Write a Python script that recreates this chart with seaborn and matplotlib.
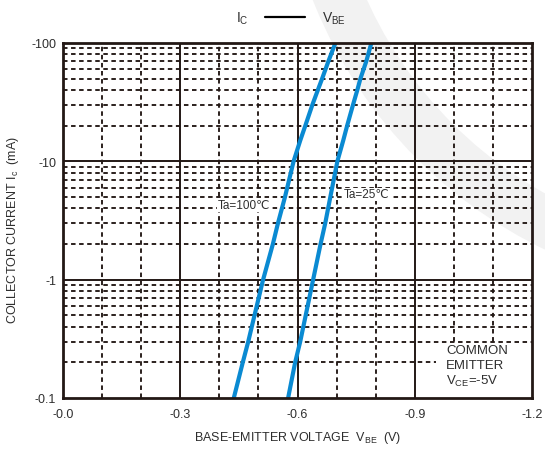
import matplotlib
matplotlib.use("Agg")
import numpy as np
import pandas as pd
import matplotlib.pyplot as plt
import seaborn as sns
from matplotlib.patches import Wedge, Rectangle
from matplotlib.ticker import FixedLocator, FixedFormatter, NullLocator

# ---- data: Ic vs VBE, common emitter, VCE = -5 V ----
ic_ma = [-0.1, -0.2, -0.3, -0.5, -1, -2, -3, -5, -10, -15, -20, -30, -40, -50, -70, -100]
vbe_100c = [-0.437, -0.460, -0.474, -0.490, -0.512, -0.537, -0.550, -0.568, -0.590,
            -0.607, -0.620, -0.638, -0.652, -0.663, -0.679, -0.697]
vbe_25c = [-0.576, -0.594, -0.607, -0.621, -0.640, -0.659, -0.671, -0.684, -0.702,
           -0.717, -0.727, -0.742, -0.753, -0.761, -0.776, -0.789]
series_names = ["Ta=100℃", "Ta=25℃"]

x_ticks = [0.0, -0.3, -0.6, -0.9, -1.2]
x_tick_labels = ["-0.0", "-0.3", "-0.6", "-0.9", "-1.2"]
y_ticks = [-0.1, -1, -10, -100]
y_tick_labels = ["-0.1", "-1", "-10", "-100"]

df = pd.concat([
    pd.DataFrame({"vbe": vbe_100c, "ic": ic_ma, "ta": series_names[0]}),
    pd.DataFrame({"vbe": vbe_25c, "ic": ic_ma, "ta": series_names[1]}),
])
df["ic_mag"] = -df["ic"]

# ---- style ----
sns.set_style("white")
plt.rcParams["font.family"] = ["Liberation Sans", "DejaVu Sans"]
plt.rcParams["mathtext.default"] = "regular"
INK = "#231815"
TXT = "#2e2e2e"
BLUE = "#0a8ad2"

W, H = 545, 452
fig = plt.figure(figsize=(W / 100, H / 100), dpi=100)

# light decorative arc in the background
bg = fig.add_axes([0, 0, 1, 1], zorder=0)
bg.set_xlim(0, W)
bg.set_ylim(H, 0)
bg.axis("off")
bg.add_patch(Wedge((748, -171), 468, 0, 360, width=50, facecolor="#f2f2f2", edgecolor="none"))

L, R, T, B = 63, 532, 44, 399
ax = fig.add_axes([L / W, (H - B) / H, (R - L) / W, (B - T) / H], zorder=1)
ax.set_facecolor("none")

ax.set_yscale("log")
ax.set_xlim(0, -1.2)
ax.set_ylim(0.1, 100)

# grid: dashed minors, solid majors
dash = dict(color=INK, lw=1.35, ls=(0, (2.4, 1.9)), zorder=1)
for k in range(-1, 2):
    for m in range(2, 10):
        ax.axhline(m * 10.0 ** k, **dash)
for xv in [-0.1, -0.2, -0.4, -0.5, -0.7, -0.8, -1.0, -1.1]:
    ax.axvline(xv, **dash)
for yv in [1, 10]:
    ax.axhline(yv, color=INK, lw=1.4, zorder=1.2)
for xv in [-0.3, -0.6, -0.9]:
    ax.axvline(xv, color=INK, lw=1.4, zorder=1.2)

# white panel behind the condition note
ax.add_patch(Rectangle((0.795, 0.0), 0.205, 0.149, transform=ax.transAxes,
                       facecolor="white", edgecolor="none", zorder=1.5))

sns.lineplot(data=df, x="vbe", y="ic_mag", hue="ta", palette=[BLUE, BLUE],
             sort=False, estimator=None, legend=False, lw=3.0, ax=ax, zorder=3)

for s in ax.spines.values():
    s.set_color(INK)
    s.set_linewidth(2.0)
    s.set_zorder(4)

ax.xaxis.set_major_locator(FixedLocator(x_ticks))
ax.xaxis.set_major_formatter(FixedFormatter(x_tick_labels))
ax.yaxis.set_major_locator(FixedLocator([-v for v in y_ticks]))
ax.yaxis.set_major_formatter(FixedFormatter(y_tick_labels))
ax.yaxis.set_minor_locator(NullLocator())
ax.tick_params(axis="both", length=0, labelsize=9, labelcolor=TXT)
ax.tick_params(axis="x", pad=7)
ax.tick_params(axis="y", pad=5)

ax.set_xlabel("BASE-EMITTER VOLTAGE  $V_{BE}$  (V)", fontsize=9, color=TXT, labelpad=7)
ax.set_ylabel("COLLECTOR CURRENT $I_{c}$  (mA)", fontsize=9, color=TXT, labelpad=8)
ax.yaxis.set_label_coords(-0.09, 0.475)

# curve labels
lbl = dict(fontsize=8.5, color=TXT, ha="left", va="center", zorder=2.5,
           bbox=dict(facecolor="white", edgecolor="none", pad=0.6))
ax.text(-0.396, 4.3, series_names[0], **lbl)
ax.text(-0.718, 5.25, series_names[1], **lbl)

# measurement condition
note = dict(fontsize=9.5, color=TXT, ha="left", va="center", zorder=2.5)
ax.text(-0.98, 0.255, "COMMON", **note)
ax.text(-0.98, 0.19, "EMITTER", **note)
ax.text(-0.98, 0.14, "$V_{CE}$=-5V", **note)

# axis-pair caption above the chart
fig.text(236 / W, 1 - 19 / H, "$I_{C}$", fontsize=10, color=TXT, ha="left", va="center")
fig.add_artist(plt.Line2D([265 / W, 305 / W], [1 - 18 / H, 1 - 18 / H], color="black", lw=1.6))
fig.text(322 / W, 1 - 19 / H, "$V_{BE}$", fontsize=10, color=TXT, ha="left", va="center")

fig.savefig("out.png", dpi=100)
